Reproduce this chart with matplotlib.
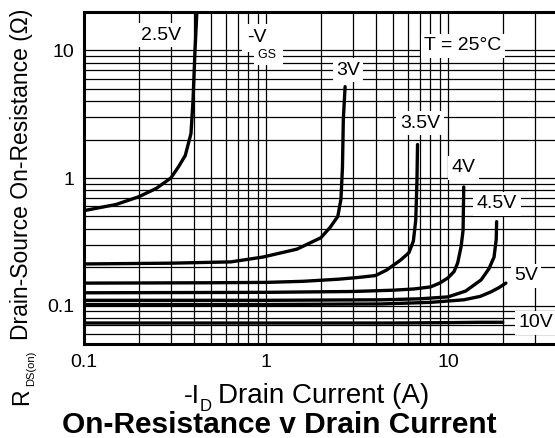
import matplotlib
matplotlib.use('Agg')
import matplotlib.pyplot as plt
from matplotlib.ticker import FixedLocator, FixedFormatter, NullFormatter

plt.rcParams['font.family'] = ['Liberation Sans', 'DejaVu Sans']

# -Id (A) vs Rds(on) (ohm)
i_25 = [0.1, 0.15, 0.2, 0.25, 0.3, 0.33, 0.36, 0.387, 0.397, 0.407, 0.417]
r_25 = [0.555, 0.62, 0.713, 0.83, 1.0, 1.22, 1.5, 2.23, 4.0, 9.8, 20]
i_3 = [0.1, 0.3, 0.64, 0.96, 1.48, 2.0, 2.25, 2.48, 2.58, 2.63, 2.66, 2.72]
r_3 = [0.212, 0.215, 0.22, 0.24, 0.277, 0.34, 0.41, 0.5, 0.68, 1.2, 2.9, 5.2]
i_35 = [0.1, 0.5, 1.0, 1.6, 2.5, 3.2, 4.0, 4.6, 5.5, 6.1, 6.45, 6.65, 6.75, 6.8]
r_35 = [0.15, 0.151, 0.152, 0.155, 0.161, 0.166, 0.172, 0.19, 0.228, 0.26, 0.32, 0.47, 0.95, 1.83]
i_4 = [0.1, 1, 3, 5, 6.5, 8.0, 9.0, 10.0, 10.8, 11.3, 11.8, 12.1, 12.2]
r_4 = [0.126, 0.127, 0.129, 0.132, 0.135, 0.14, 0.15, 0.165, 0.185, 0.216, 0.29, 0.39, 0.85]
i_45 = [0.1, 1, 4.3, 7, 10, 12.5, 15.2, 16.8, 17.9, 18.4, 18.5]
r_45 = [0.11, 0.11, 0.111, 0.113, 0.117, 0.13, 0.159, 0.195, 0.24, 0.33, 0.455]
i_5 = [0.1, 1, 4.3, 8, 12.2, 15, 17.2, 19, 20.8]
r_5 = [0.102, 0.102, 0.103, 0.106, 0.111, 0.118, 0.128, 0.138, 0.15]
i_10 = [0.1, 1, 5, 10, 15, 20]
r_10 = [0.073, 0.073, 0.073, 0.0735, 0.074, 0.074]

curves = [(i_25, r_25), (i_3, r_3), (i_35, r_35), (i_4, r_4),
          (i_45, r_45), (i_5, r_5), (i_10, r_10)]

tick_vals = [0.1, 1, 10]
tick_labels = ['0.1', '1', '10']

fig = plt.figure(figsize=(5.55, 4.38), dpi=100)
ax = fig.add_axes([84/555, 94/438, 473.6/555, 332/438])
ax.set_xscale('log')
ax.set_yscale('log')
ax.set_xlim(0.1, 40)
ax.set_ylim(0.05, 20)

for x, y in curves:
    ax.plot(x, y, color='black', lw=2.4, solid_capstyle='round', zorder=3)

for axis in (ax.xaxis, ax.yaxis):
    axis.set_major_locator(FixedLocator(tick_vals))
    axis.set_major_formatter(FixedFormatter(tick_labels))
    axis.set_minor_formatter(NullFormatter())
ax.tick_params(which='both', length=0, labelsize=14, pad=7)
ax.grid(True, which='both', color='black', lw=0.9)
ax.set_axisbelow(True)
for s in ax.spines.values():
    s.set_linewidth(2.2)

box = dict(facecolor='white', edgecolor='none', pad=2.5)
labels = [('2.5V', 0.265, 12.07), ('3V', 2.82, 6.42), ('T = 25°C', 12.1, 10.07),
          ('3.5V', 7.02, 2.47), ('4V', 12.1, 1.11), ('4.5V', 18.6, 0.581),
          ('5V', 26.8, 0.158), ('10V', 30.4, 0.0678)]
for txt, x, y in labels:
    ax.text(x, y, txt, ha='center', va='baseline', fontsize=14, bbox=box, zorder=5)
ax.text(0.892, 11.6, '-V', ha='center', va='baseline', fontsize=14,
        bbox=dict(facecolor='white', edgecolor='none', pad=4), zorder=5)
ax.text(1.032, 8.72, 'GS ', ha='center', va='baseline', fontsize=9,
        bbox=dict(facecolor='white', edgecolor='none', pad=3), zorder=5)

# axis titles built from pieces to get the deep subscripts
W, H = 555, 438
fig.text(200/W, 1-403/H, '-I', ha='right', va='baseline', fontsize=19)
fig.text(200/W, 1-411/H, 'D', ha='left', va='baseline', fontsize=12)
fig.text(218/W, 1-403/H, 'Drain Current (A)', ha='left', va='baseline', fontsize=20)

rot = dict(rotation=90, rotation_mode='anchor', ha='left', va='baseline')
fig.text(28/W, 1-405/H, 'R', fontsize=16.5, **rot)
fig.text(34/W, 1-386/H, 'DS(on)', fontsize=8, **rot)
fig.text(28/W, 1-340/H, 'Drain-Source On-Resistance (\u03a9)', fontsize=16.5, **rot)

fig.text(279/W, 1-433/H, 'On-Resistance v Drain Current', ha='center', va='baseline',
         fontsize=21.5, fontweight='bold')

fig.savefig('out.png', dpi=100)
